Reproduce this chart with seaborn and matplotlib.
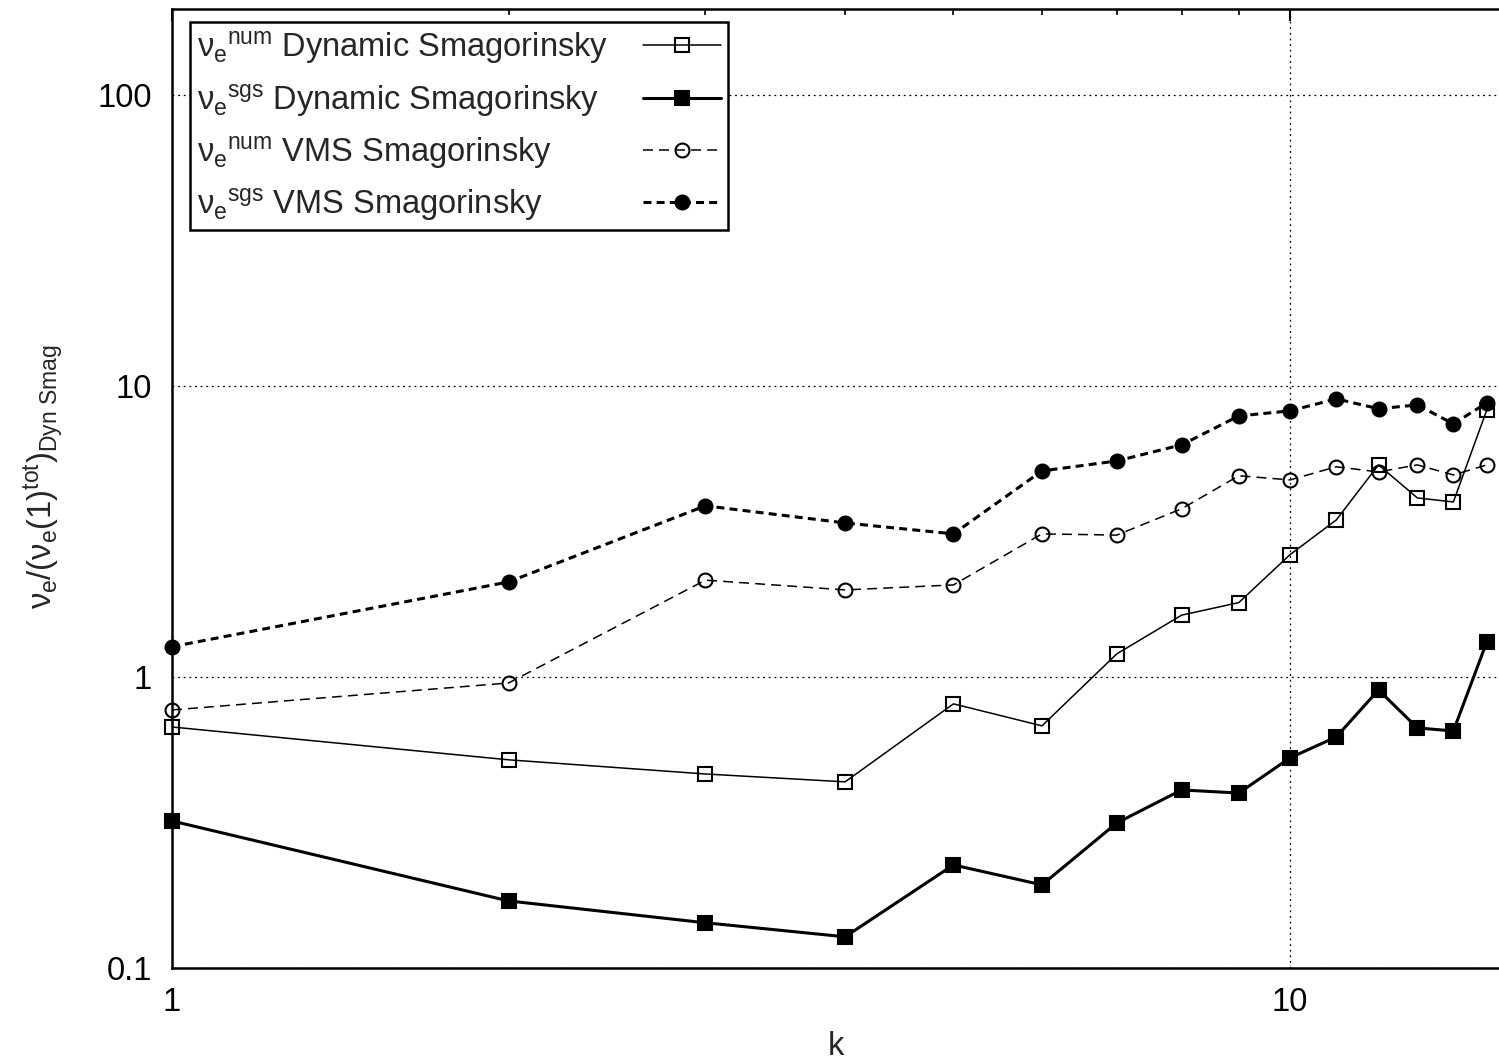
import matplotlib
matplotlib.use("Agg")
import matplotlib.pyplot as plt
import matplotlib.ticker as mticker
import numpy as np
import pandas as pd
import seaborn as sns

# wavenumbers
k = [1, 2, 3, 4, 5, 6, 7, 8, 9, 10, 11, 12, 13, 14, 15]

# normalised eddy viscosities per wavenumber
dyn_num = [0.673, 0.519, 0.464, 0.436, 0.808, 0.679, 1.20, 1.63, 1.80, 2.63,
           3.46, 5.35, 4.12, 3.99, 8.27]
dyn_sgs = [0.320, 0.170, 0.143, 0.128, 0.226, 0.193, 0.315, 0.409, 0.399, 0.527,
           0.622, 0.902, 0.668, 0.652, 1.32]
vms_num = [0.77, 0.953, 2.15, 1.99, 2.07, 3.10, 3.07, 3.78, 4.91, 4.75,
           5.27, 5.06, 5.35, 4.94, 5.35]
vms_sgs = [1.27, 2.12, 3.87, 3.38, 3.10, 5.10, 5.52, 6.27, 7.88, 8.20,
           9.02, 8.34, 8.60, 7.40, 8.74]

labels = [
    r"$\nu_{\mathrm{e}}{}^{\mathrm{num}}$ Dynamic Smagorinsky",
    r"$\nu_{\mathrm{e}}{}^{\mathrm{sgs}}$ Dynamic Smagorinsky",
    r"$\nu_{\mathrm{e}}{}^{\mathrm{num}}$ VMS Smagorinsky",
    r"$\nu_{\mathrm{e}}{}^{\mathrm{sgs}}$ VMS Smagorinsky",
]
x_ticks = [1, 10]
x_ticklabels = ["1", "10"]
y_ticks = [0.1, 1, 10, 100]
y_ticklabels = ["0.1", "1", "10", "100"]

FS = 23.5

sns.set_theme(style="white")
plt.rcParams["font.family"] = ["Liberation Sans", "DejaVu Sans"]
plt.rcParams["mathtext.fontset"] = "custom"
plt.rcParams["mathtext.rm"] = "Liberation Sans"
plt.rcParams["mathtext.it"] = "Liberation Sans"
plt.rcParams["mathtext.bf"] = "Liberation Sans:bold"

fig = plt.figure(figsize=(14.99, 10.64), dpi=100)
ax = fig.add_axes([172 / 1499, 1 - 968 / 1064, 1 - 172 / 1499, (968 - 9) / 1064])

styles = [
    dict(y=dyn_num, marker="s", mfc="none", lw=1.1, ls="-", ms=10),
    dict(y=dyn_sgs, marker="s", mfc="black", lw=2.2, ls="-", ms=10),
    dict(y=vms_num, marker="o", mfc="none", lw=1.1, ls=(0, (6.5, 4.0)), ms=10),
    dict(y=vms_sgs, marker="o", mfc="black", lw=2.2, ls=(0, (2.6, 1.7)), ms=10),
]

for st, lab in zip(styles, labels):
    df = pd.DataFrame({"k": k, "v": st["y"]})
    sns.lineplot(data=df, x="k", y="v", ax=ax, color="black", label=lab,
                 marker=st["marker"], markersize=st["ms"],
                 markerfacecolor=st["mfc"], markeredgecolor="black",
                 markeredgewidth=1.5, linewidth=st["lw"], linestyle=st["ls"],
                 clip_on=False, zorder=3)

ax.set_xscale("log")
ax.set_yscale("log")
ax.set_xlim(1, 15.38)
ax.set_ylim(0.1, 197)

ax.xaxis.set_major_locator(mticker.FixedLocator(x_ticks))
ax.xaxis.set_major_formatter(mticker.FixedFormatter(x_ticklabels))
ax.yaxis.set_major_locator(mticker.FixedLocator(y_ticks))
ax.yaxis.set_major_formatter(mticker.FixedFormatter(y_ticklabels))
ax.xaxis.set_minor_locator(mticker.LogLocator(base=10, subs=np.arange(2, 10)))
ax.yaxis.set_minor_locator(mticker.LogLocator(base=10, subs=np.arange(2, 10)))
ax.xaxis.set_minor_formatter(mticker.NullFormatter())
ax.yaxis.set_minor_formatter(mticker.NullFormatter())

ax.tick_params(which="both", direction="in", top=True, right=False,
               colors="black", labelsize=FS)
ax.tick_params(which="major", length=8.5, width=1.5)
ax.tick_params(which="minor", length=4.5, width=1.2)
ax.tick_params(axis="y", which="major", pad=14.5)
ax.tick_params(axis="x", which="major", pad=14)

for name, sp in ax.spines.items():
    sp.set_color("black")
    sp.set_linewidth(1.8)
ax.spines["right"].set_visible(False)

ax.grid(True, which="major", color="black", linestyle=(0, (1.5, 3)), linewidth=0.9)
ax.grid(False, which="minor")

ax.set_xlabel("k", fontsize=FS)
ax.xaxis.set_label_coords(0.5, -0.066)
ax.set_ylabel(r"$\nu_{\mathrm{e}}/(\nu_{\mathrm{e}}(1){}^{\mathrm{tot}})_{\mathrm{Dyn\ Smag}}$",
              fontsize=FS)
ax.yaxis.set_label_coords(-0.0805, 0.512)

leg = ax.legend(loc="upper left", bbox_to_anchor=(18 / 1327, 1 - 13 / 959),
                markerfirst=False, fontsize=FS, frameon=True, fancybox=False,
                handlelength=2.4, handletextpad=1.0, borderpad=0.22,
                labelspacing=0.47, borderaxespad=0)
leg.get_frame().set_edgecolor("black")
leg.get_frame().set_linewidth(1.8)
leg.get_frame().set_facecolor("white")
leg.get_frame().set_alpha(1)
leg.set_zorder(5)

# left-align the labels and push the line samples to the right edge
row_width = 524
for col in leg._legend_handle_box.get_children():
    col.align = "left"
    for row in col.get_children():
        row.width = row_width
        row.mode = "expand"

fig.savefig("out.png", dpi=100)
